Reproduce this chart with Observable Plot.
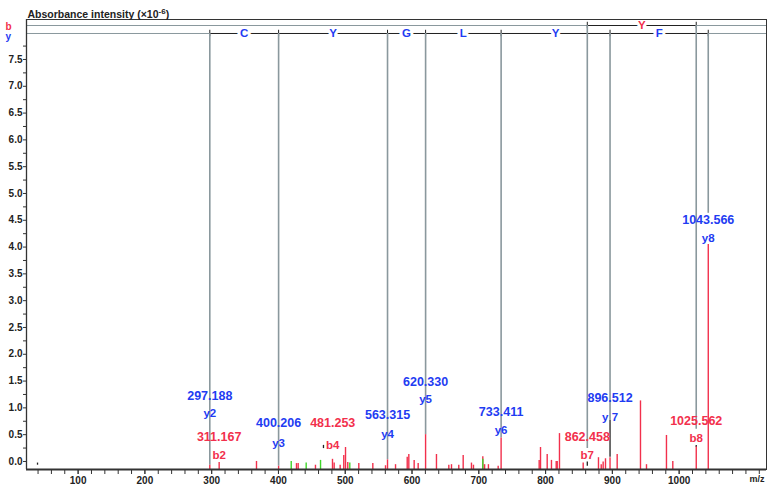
<!DOCTYPE html>
<html><head><meta charset="utf-8">
<script src="https://cdn.jsdelivr.net/npm/d3@7"></script>
<script src="https://cdn.jsdelivr.net/npm/@observablehq/plot@0.6"></script>
<style>body{margin:0;background:#fff;} svg{display:block;}</style>
</head><body><div id="chart"></div>
<script>
// ---- data ----
const peakMz = [297.19, 311.2, 367.1, 400.2, 427, 429.5, 455.4, 480.9, 483.4, 492.4, 497.8, 500.4, 503.8, 520.3, 541.3, 560.3, 563.3, 575.3, 592.8, 595.2, 603.2, 609.2, 620.3, 636.6, 655.1, 659.1, 670, 676.6, 689, 692, 706, 708.7, 714.4, 729, 733.4, 790.4, 792.4, 802.4, 808.8, 815.9, 817.4, 820.8, 856.3, 879.2, 883.3, 886.2, 889.7, 896.5, 907.2, 942.1, 951.1, 981, 990.5, 1025.6, 1043.6];
const peakInt = [-0.07, -0.02, 0.0, -0.09, -0.04, -0.04, -0.07, 0.04, -0.03, -0.07, 0.11, 0.26, -0.02, -0.04, -0.04, -0.08, 0.03, -0.06, 0.08, 0.13, 0.02, -0.04, 0.50, 0.13, -0.07, -0.06, -0.07, 0.11, -0.03, -0.07, 0.09, -0.06, -0.06, -0.09, 0.44, 0.02, 0.26, 0.13, 0.02, 0.0, 0.0, 0.52, -0.03, 0.07, -0.06, -0.01, 0.05, 0.07, 0.13, 1.13, -0.06, 0.485, 0.0, 0.27, 4.05];
const greenMz = [419.1, 441.5, 463, 506.8, 706];
const greenInt = [0.0, -0.03, 0.02, -0.03, 0.04];

const ionName  = ["y2", "y3", "y4", "y5", "y6", "y 7", "y8", "b2", "b4", "b7", "b8"];
const ionMz    = [297.188, 400.206, 563.315, 620.330, 733.411, 896.512, 1043.566, 311.167, 481.253, 862.458, 1025.562];
const ionText  = ["297.188", "400.206", "563.315", "620.330", "733.411", "896.512", "1043.566", "311.167", "481.253", "862.458", "1025.562"];
const ionSeries = ["y", "y", "y", "y", "y", "y", "y", "b", "b", "b", "b"];

const yResidues = ["C", "Y", "G", "L", "Y", "F"];
const yLadder = [297.188, 400.206, 563.315, 620.330, 733.411, 896.512, 1043.566];
const bResidues = ["Y"];
const bLadder = [862.458, 1025.562];

const xMajorTicks = [100, 200, 300, 400, 500, 600, 700, 800, 900, 1000];
const yMajorTicks = [0, 0.5, 1, 1.5, 2, 2.5, 3, 3.5, 4, 4.5, 5, 5.5, 6, 6.5, 7, 7.5];

// ---- layout (annotation placement, intensity units) ----
const valueLevel = [1.22, 0.71, 0.86, 1.48, 0.92, 1.18, 4.51, 0.45, 0.71, 0.45, 0.76];
const nameLevel  = [0.90, 0.34, 0.50, 1.16, 0.58, 0.83, 4.17, 0.11, 0.30, 0.11, 0.43];
const guideBottom = {"y2": -0.07, "y3": -0.09, "y4": 0.03, "y5": 0.50, "y6": 0.44, "y 7": 0.765, "y8": 4.63, "b7": 0.24, "b8": 0.60};
const darkMarks = [[39.2, -0.07, -0.03], [467.4, 0.24, 0.30], [862.458, -0.09, -0.01], [896.512, 0.08, 0.765], [1025.562, 0.26, 0.30]];

const yMin = -0.15, yMax = 8.246;
const rowB = 8.134, rowY = 7.985;
const RED = "#f2304c", BLUE = "#1f3cf2", GRAY = "#8a989d", DARK = "#222";
const FONT = "'Liberation Sans', Arial, sans-serif";

const peaks = peakMz.map((m, i) => ({mz: m, v: peakInt[i]}));
const greens = greenMz.map((m, i) => ({mz: m, v: greenInt[i]}));
const ions = ionMz.map((m, i) => ({mz: m, name: ionName[i], text: ionText[i], series: ionSeries[i], vl: valueLevel[i], nl: nameLevel[i]}));
const guides = ions.filter(d => guideBottom[d.name] !== undefined).map(d => ({mz: d.mz, top: d.series === "y" ? rowY : rowB, bottom: guideBottom[d.name]}));
const dark = darkMarks.map(([mz, lo, hi]) => ({mz, lo, hi}));
const residues = [
  ...yResidues.map((r, i) => ({aa: r, mid: (yLadder[i] + yLadder[i + 1]) / 2, row: rowY, c: BLUE})),
  ...bResidues.map((r, i) => ({aa: r, mid: (bLadder[i] + bLadder[i + 1]) / 2, row: rowB, c: RED}))
];
const ladderTicks = [...yLadder.map(m => ({mz: m, row: rowY})), ...bLadder.map(m => ({mz: m, row: rowB}))];
const minorX = d3.range(40, 1121, 20);
const minorY = d3.range(0.25, 7.8, 0.5);

const TITLE = "Absorbance intensity (×10-6)";

const chart = Plot.plot({
  width: 774, height: 487,
  marginTop: 19, marginRight: 8, marginBottom: 18, marginLeft: 26,
  style: {fontFamily: FONT, fontSize: "10px", fontWeight: "bold", color: DARK, background: "#fff"},
  x: {domain: [22.7, 1130.8]},
  y: {domain: [yMin, yMax]},
  marks: [
    // annotation rows
    Plot.ruleY([rowB, rowY], {stroke: GRAY, strokeWidth: 1}),
    Plot.ruleY([{y: rowY, a: yLadder[0], b: yLadder[yLadder.length - 1]}, {y: rowB, a: bLadder[0], b: bLadder[1]}], {y: "y", x1: "a", x2: "b", stroke: DARK, strokeWidth: 1}),
    Plot.ruleX(ladderTicks, {x: "mz", y1: d => d.row - 0.06, y2: d => d.row + 0.06, stroke: DARK, strokeWidth: 1}),
    // guide lines
    Plot.ruleX(guides, {x: "mz", y1: "bottom", y2: "top", stroke: GRAY, strokeWidth: 1.6}),
    Plot.ruleX(dark, {x: "mz", y1: "lo", y2: "hi", stroke: DARK, strokeWidth: 1.3}),
    // peaks
    Plot.ruleX(peaks, {x: "mz", y1: yMin, y2: "v", stroke: RED, strokeWidth: 1.4}),
    Plot.ruleX(greens, {x: "mz", y1: yMin, y2: "v", stroke: "#3fd62a", strokeWidth: 1.4}),
    // residue letters
    Plot.text(residues, {x: "mid", y: "row", text: "aa", fill: "c", stroke: "white", strokeWidth: 6, fontSize: 11.5, fontWeight: "bold"}),
    // ion labels
    Plot.text(ions, {x: "mz", y: "vl", text: "text", fill: d => d.series === "y" ? BLUE : RED, fontSize: 12.5, fontWeight: "bold"}),
    Plot.text(ions, {x: "mz", y: "nl", text: "name", fill: d => d.series === "y" ? BLUE : RED, fontSize: 11.5, fontWeight: "bold"}),
    // axes
    Plot.axisX(minorX, {tickSize: 5, tickFormat: () => "", stroke: "#333", label: null}),
    Plot.axisX(xMajorTicks, {tickSize: 5, tickPadding: 2, tickFormat: d => String(d), fill: DARK, stroke: "#333", label: null}),
    Plot.axisY(minorY, {tickSize: 3, tickFormat: () => "", stroke: "#333", label: null}),
    Plot.axisY(yMajorTicks, {tickSize: 3, tickPadding: 1, tickFormat: d => d.toFixed(1), fill: DARK, stroke: "#333", label: null}),
    Plot.frame({stroke: "#333", strokeWidth: 1}),
    Plot.ruleY([yMin], {stroke: "#333", strokeWidth: 2.2}),
    Plot.ruleX([22.7], {stroke: "#333", strokeWidth: 1.3}),
    // titles
    Plot.text([TITLE], {frameAnchor: "top-left", dx: 1, dy: -9, textAnchor: "start", fontSize: 10.5, fontWeight: "bold", fill: DARK}),
    Plot.text(["b"], {frameAnchor: "top-left", dx: -21, dy: 3, textAnchor: "start", fontSize: 10, fontWeight: "bold", fill: RED}),
    Plot.text(["y"], {frameAnchor: "top-left", dx: -21, dy: 13, textAnchor: "start", fontSize: 10, fontWeight: "bold", fill: BLUE}),
    Plot.text(["m/z"], {frameAnchor: "bottom-right", dx: -2, dy: 12, textAnchor: "end", fontSize: 9, fontWeight: "bold", fill: DARK})
  ]
});
document.getElementById("chart").appendChild(chart);
d3.select(chart).selectAll("text").filter(function () { return this.textContent === TITLE; })
  .each(function () {
    this.textContent = "";
    const t = d3.select(this);
    t.append("tspan").text("Absorbance intensity (×10");
    t.append("tspan").attr("dy", "-4").attr("font-size", "8").text("-6");
    t.append("tspan").attr("dy", "4").text(")");
  });
</script>
</body></html>
